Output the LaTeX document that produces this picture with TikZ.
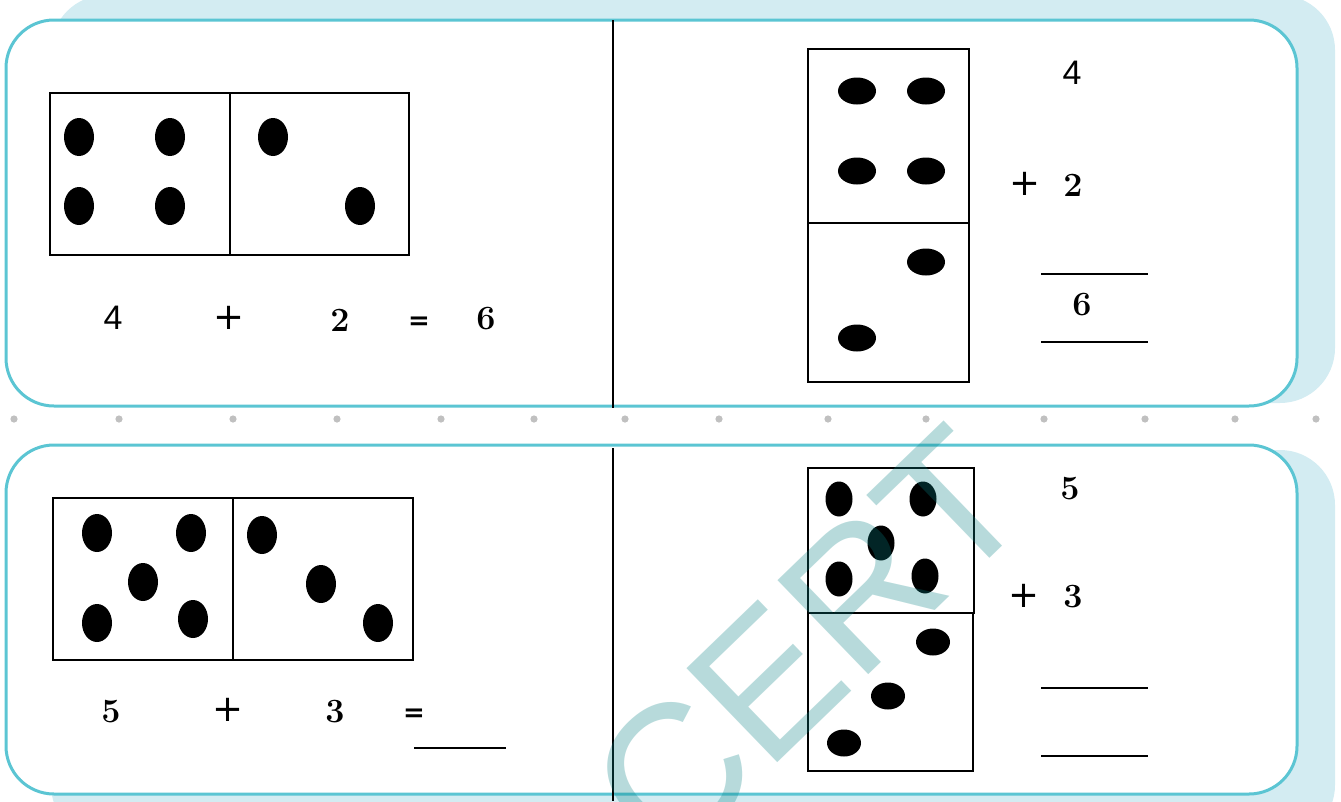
\documentclass[tikz,border=0pt]{standalone}
\usepackage{xcolor}
\usepackage{tikz}
\usepackage{fontspec}
\newfontfamily\signfont{DejaVu Sans}
\newfontfamily\handfont{Liberation Sans}
\newfontfamily\markfont{Liberation Sans}
\definecolor{panelline}{RGB}{91,197,211}
\definecolor{panelshade}{RGB}{211,236,242}
\definecolor{sepdot}{RGB}{192,192,192}
\definecolor{wmark}{RGB}{8,130,132}

\begin{document}
\begin{tikzpicture}[x=1pt,y=-1pt,
    shade/.style={fill=panelshade,rounded corners=55pt},
    panel/.style={draw=panelline,line width=3pt,fill=white,rounded corners=48pt},
    domino/.style={draw,line width=1.8pt},
    digit/.style={font=\fontsize{34}{36}\selectfont\bfseries,inner sep=0pt},
    four/.style={font=\handfont\fontsize{34}{36}\selectfont,inner sep=0pt},
    sign/.style={font=\signfont\fontsize{37}{40}\selectfont,inner sep=0pt},
    equals/.style={font=\signfont\bfseries\fontsize{26}{30}\selectfont,inner sep=0pt,anchor=base},
    blank/.style={line width=2.2pt}]
    \useasboundingbox (0,0) rectangle (1341,801);

    % cards behind
    \fill[shade] (51,-5) rectangle (1335,403);
    \fill[shade] (51,450) rectangle (1335,840);
    % cards in front
    \draw[panel] (6,20) rectangle (1297,406);
    \draw[panel] (6,445) rectangle (1297,794);

    % cut line
    \foreach \x in {14,119,233,337,441,534,625,719,828,926,1044,1145,1235,1316}
        \fill[sepdot] (\x,419) circle (3.6pt);

    % middle rule
    \draw[line width=2.2pt] (613,20) -- (613,408);
    \draw[line width=2.2pt] (613,448) -- (613,801);

    % card 1, left: 4 + 2 = 6
    \draw[domino] (50,93) rectangle (409,255);
    \draw[domino] (230,93) -- (230,255);
    \foreach \x/\y in {79/137,170/137,79/206,170/206,273/137,360/206}
        \fill (\x,\y) ellipse (15pt and 19pt);
    \node[four] (topA) at (113,318) {4};
    \node[sign] (topPlus) at (229,318) {+};
    \node[digit] (topB) at (340,320) {2};
    \node[equals] (topEq) at (419,329) {=};
    \node[digit] (topSum) at (486,319) {6};

    % card 1, right: standing domino
    \draw[domino] (808,49) rectangle (969,382);
    \draw[domino] (808,223) -- (969,223);
    \foreach \x/\y in {857/91,926/91,857/171,926/171,926/262,857/338}
        \fill (\x,\y) ellipse (19pt and 13.5pt);
    \node[four] (colA) at (1072,73) {4};
    \node[sign] (colPlus) at (1025,184) {+};
    \node[digit] (colB) at (1073,185) {2};
    \draw[blank] (1041,274) -- (1148,274);
    \node[digit] (colSum) at (1082,305) {6};
    \draw[blank] (1041,342) -- (1148,342);

    % card 2, left: 5 + 3 = ?
    \draw[domino] (53,498) rectangle (413,660);
    \draw[domino] (233,498) -- (233,660);
    \foreach \x/\y in {97/533,191/533,143/582,97/623,193/619,262/535,321/584,378/623}
        \fill (\x,\y) ellipse (15pt and 19pt);
    \node[digit] (lowA) at (111,712) {5};
    \node[sign] (lowPlus) at (228,710) {+};
    \node[digit] (lowB) at (335,712) {3};
    \node[equals] (lowEq) at (414,721) {=};
    \draw[blank] (414,748) -- (506,748);

    % card 2, right: standing domino
    \draw[domino] (808,468) rectangle (974,613);
    \draw[domino] (808,613) rectangle (973,771);
    \foreach \x/\y in {839/499,923/499,881/543,839/579,925/576}
        \fill (\x,\y) ellipse (13.5pt and 17.5pt);
    \foreach \x/\y in {933/642,888/696,844/743}
        \fill (\x,\y) ellipse (17pt and 13.5pt);
    \node[digit] (stackA) at (1070,489) {5};
    \node[sign] (stackPlus) at (1024,596) {+};
    \node[digit] (stackB) at (1073,597) {3};
    \draw[blank] (1041,688) -- (1148,688);
    \draw[blank] (1041,756) -- (1148,756);

    % watermark
    \node[font=\markfont\fontsize{190}{200}\selectfont,text=wmark,opacity=0.29,
          text opacity=0.29,rotate=44,anchor=base west,inner sep=0pt] (mark) at (668,869) {CERT};
\end{tikzpicture}
\end{document}
